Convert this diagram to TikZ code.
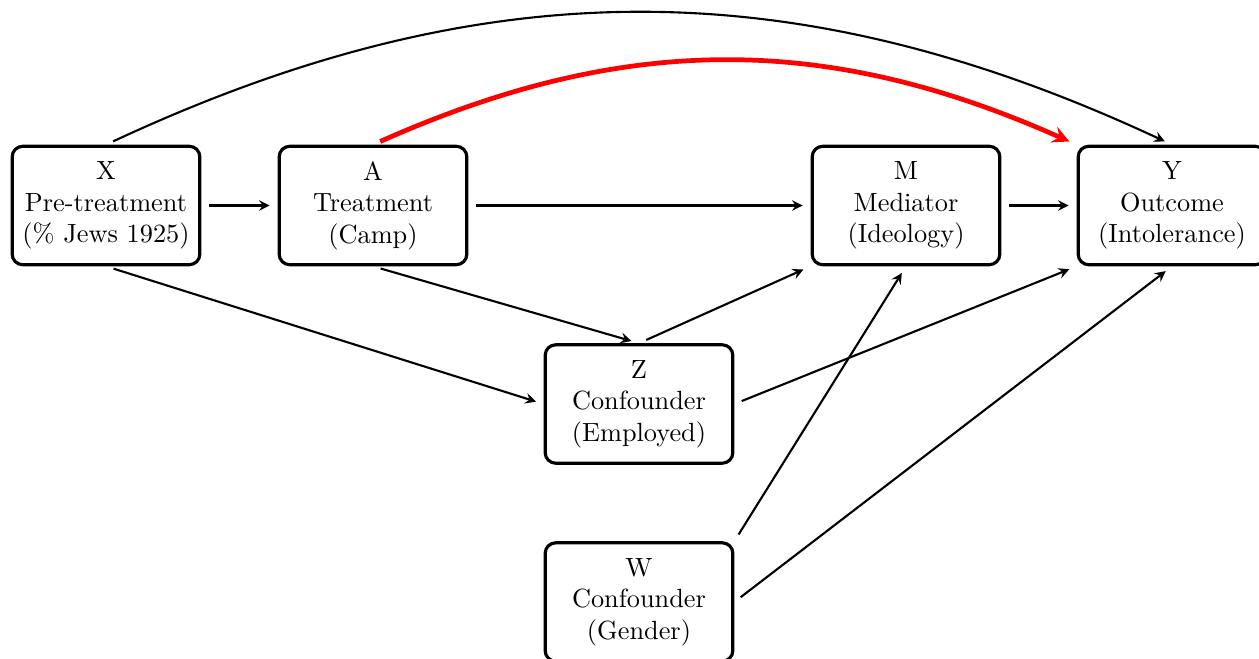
\documentclass[tikz,border=0pt]{standalone}
\usetikzlibrary{arrows,arrows.meta}
\begin{document}
\begin{tikzpicture}[x=0.38pt,y=-0.38pt,
  box/.style={draw, very thick, rounded corners=4pt, minimum width=71.3pt, minimum height=45pt, align=center, inner sep=2pt},
  arr/.style={-stealth, thick, shorten >=3pt, shorten <=3pt},
  redarr/.style={-{stealth[scale=1.3]}, line width=1.8pt, red, shorten >=3pt, shorten <=3pt}]
\useasboundingbox (0,0) rectangle (1259,658);
\node[box] (X) at (106,205.5) {X\\Pre-treatment\\(\% Jews 1925)};
\node[box] (A) at (373,205.5) {A\\Treatment\\(Camp)};
\node[box] (M) at (906,205.5) {M\\Mediator\\(Ideology)};
\node[box] (Y) at (1172,205.5) {Y\\Outcome\\(Intolerance)};
\node[box] (Z) at (639,404) {Z\\Confounder\\(Employed)};
\node[box] (W) at (639,602) {W\\Confounder\\(Gender)};
\draw[arr] (X) -- (A);
\draw[arr] (A) -- (M);
\draw[arr] (M) -- (Y);
\draw[arr] (X.south) -- (Z.west);
\draw[arr] (A.south) -- (Z.north);
\draw[arr] (Z.north) -- (M.south west);
\draw[arr] (Z.east) -- (Y.south west);
\draw[arr] (W.north east) -- (M.south);
\draw[arr] (W.east) -- (Y.south);
\draw[arr] (X.north) to[bend left=25] (Y.north);
\draw[redarr] (A.north) to[bend left=24] (Y.north west);
\end{tikzpicture}
\end{document}
